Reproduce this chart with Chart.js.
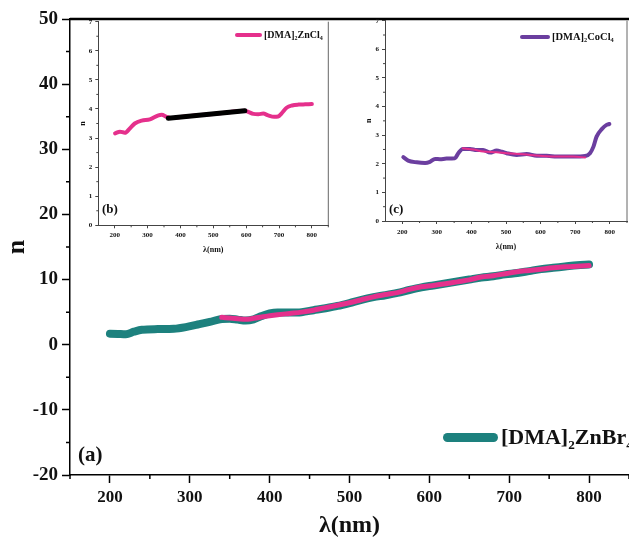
<!DOCTYPE html>
<html><head><meta charset="utf-8">
<script src="https://cdn.jsdelivr.net/npm/chart.js@4.4.0/dist/chart.umd.min.js"></script>
<style>
body{margin:0;background:#fff;}
#wrap{position:relative;width:629px;height:542px;overflow:hidden;font-family:"Liberation Serif","Times New Roman",serif;font-weight:bold;color:#111;}
canvas{position:absolute;}
.lab{position:absolute;white-space:nowrap;line-height:1;}
.leg{position:absolute;display:flex;align-items:center;white-space:nowrap;line-height:1;}
.sw{display:inline-block;border-radius:999px;flex:none;}
sub{font-size:60%;vertical-align:-0.35em;line-height:0;}
</style></head>
<body><div id="wrap">
<canvas id="cMain" width="629" height="542" style="left:0;top:0"></canvas>
<canvas id="cB" width="257" height="260" style="left:78px;top:0"></canvas>
<canvas id="cC" width="269" height="258" style="left:360px;top:0"></canvas>
<div class="lab" style="left:78px;top:444px;font-size:21px">(a)</div>
<div class="lab" style="left:102px;top:202px;font-size:13px">(b)</div>
<div class="lab" style="left:389px;top:202px;font-size:13px">(c)</div>
</div>
<script>
// ---- main panel (a) ----
const mainXTicks = [200, 300, 400, 500, 600, 700, 800];
const mainXMinor = [150, 250, 350, 450, 550, 650, 750, 850];
const mainYTicks = [-20, -10, 0, 10, 20, 30, 40, 50];
const mainYMinor = [-15, -5, 5, 15, 25, 35, 45];

const brLambda = [200, 210, 220, 230, 240, 260, 280, 295, 310, 325, 340, 350, 360, 370, 380, 390, 400, 410, 425, 440, 455, 470, 485, 500, 515, 530, 545, 560, 575, 590, 605, 620, 635, 650, 665, 680, 695, 710, 725, 740, 755, 770, 785, 800];
const brN      = [1.7, 1.65, 1.6, 2.0, 2.3, 2.4, 2.45, 2.7, 3.1, 3.5, 3.95, 4.0, 3.85, 3.7, 3.9, 4.4, 4.8, 4.95, 4.95, 5.0, 5.3, 5.6, 5.95, 6.4, 6.9, 7.3, 7.6, 7.95, 8.4, 8.8, 9.1, 9.4, 9.7, 10.0, 10.3, 10.5, 10.8, 11.0, 11.3, 11.6, 11.8, 12.0, 12.2, 12.3];

const fitLambda = [340, 350, 360, 370, 380, 395, 410, 425, 440, 455, 470, 485, 500, 515, 530, 545, 560, 575, 590, 605, 620, 635, 650, 665, 680, 695, 710, 725, 740, 755, 770, 785, 800];
const fitN      = [4.2, 4.1, 4.0, 3.9, 4.05, 4.35, 4.6, 4.8, 5.0, 5.3, 5.7, 6.05, 6.45, 6.9, 7.35, 7.7, 8.0, 8.5, 8.9, 9.1, 9.35, 9.65, 9.95, 10.4, 10.6, 10.9, 11.2, 11.4, 11.6, 11.8, 11.95, 12.05, 12.15];

// ---- inset (b) ----
const insXTicks = [200, 300, 400, 500, 600, 700, 800];
const insXMinor = [250, 350, 450, 550, 650, 750, 850];
const insYTicks = [0, 1, 2, 3, 4, 5, 6, 7];
const insYMinor = [0.5, 1.5, 2.5, 3.5, 4.5, 5.5, 6.5];

const znLambda = [201, 216, 231, 246, 261, 282, 307, 333, 343, 358, 370, 400, 450, 500, 550, 596, 606, 622, 637, 652, 667, 685, 697, 708, 724, 740, 760, 780, 800];
const znN      = [3.16, 3.22, 3.18, 3.33, 3.5, 3.6, 3.64, 3.78, 3.8, 3.73, 3.69, 3.72, 3.78, 3.83, 3.89, 3.94, 3.9, 3.83, 3.82, 3.84, 3.78, 3.73, 3.74, 3.85, 4.05, 4.12, 4.15, 4.16, 4.17];
const znFitLambda = [363, 596];
const znFitN      = [3.68, 3.94];

// ---- inset (c) ----
const coLambda = [203, 217, 242, 266, 280, 295, 309, 328, 352, 362, 375, 396, 415, 434, 454, 473, 488, 502, 531, 560, 589, 618, 647, 695, 729, 743, 753, 762, 777, 791, 799];
const coN      = [2.23, 2.11, 2.05, 2.03, 2.07, 2.17, 2.16, 2.18, 2.19, 2.37, 2.52, 2.52, 2.48, 2.48, 2.39, 2.46, 2.42, 2.37, 2.31, 2.34, 2.28, 2.28, 2.25, 2.25, 2.27, 2.37, 2.6, 2.95, 3.21, 3.36, 3.39];
const coFitLambda = [375, 405, 434, 473, 502, 550, 598, 647, 695, 729];
const coFitN      = [2.54, 2.5, 2.43, 2.4, 2.37, 2.33, 2.28, 2.25, 2.25, 2.22];

const TEAL = '#1d817e', PINK = '#e5308c', PURPLE = '#6b3e9f', BLACK = '#000000';
const SERIF = '"Liberation Serif","Times New Roman",serif';

const xy = (xs, ys) => xs.map((x, i) => ({x, y: ys[i]}));
const setTicks = arr => axis => { axis.ticks = arr.map(v => ({value: v})); };

const minorTicks = {
  id: 'minorTicks',
  afterDraw(chart, args, o) {
    const {ctx} = chart; const sx = chart.scales.x, sy = chart.scales.y;
    ctx.save(); ctx.strokeStyle = o.color; ctx.lineWidth = o.width; ctx.beginPath();
    (o.x || []).forEach(v => { const p = sx.getPixelForValue(v); ctx.moveTo(p, sx.top); ctx.lineTo(p, sx.top + o.len); });
    (o.y || []).forEach(v => { const p = sy.getPixelForValue(v); ctx.moveTo(sy.right, p); ctx.lineTo(sy.right - o.len, p); });
    ctx.stroke(); ctx.restore();
  }
};
const frame = {
  id: 'frame',
  afterDraw(chart, args, o) {
    const {ctx, chartArea: a} = chart;
    ctx.save();
    if (o.top) { ctx.strokeStyle = o.top.color; ctx.lineWidth = o.top.width; ctx.beginPath(); ctx.moveTo(a.left, a.top); ctx.lineTo(a.right, a.top); ctx.stroke(); }
    if (o.right) { ctx.strokeStyle = o.right.color; ctx.lineWidth = o.right.width; ctx.beginPath(); ctx.moveTo(a.right, a.top); ctx.lineTo(a.right, a.bottom); ctx.stroke(); }
    ctx.restore();
  }
};

const baseLine = {point: {radius: 0}, line: {cubicInterpolationMode: 'monotone', borderCapStyle: 'round', borderJoinStyle: 'round'}};

function axisX(o) {
  return {
    type: 'linear', min: 150, max: 850,
    afterBuildTicks: setTicks(o.ticks), afterFit: s => { s.height = o.h; },
    grid: {drawOnChartArea: false, tickLength: o.tl, color: o.c, tickWidth: o.bw},
    border: {color: o.c, width: o.bw},
    ticks: {font: {family: SERIF, size: o.fs, weight: 'bold'}, color: '#111', padding: o.tp, maxRotation: 0, autoSkip: false},
    title: {display: true, text: 'λ(nm)', font: {family: SERIF, size: o.ts, weight: 'bold'}, color: '#111', padding: {top: 0, bottom: o.tpad}}
  };
}
function axisY(o) {
  return {
    type: 'linear', min: o.min, max: o.max,
    afterBuildTicks: setTicks(o.ticks), afterFit: s => { s.width = o.w; },
    grid: {drawOnChartArea: false, tickLength: o.tl, color: o.c, tickWidth: o.bw},
    border: {color: o.c, width: o.bw},
    ticks: {font: {family: SERIF, size: o.fs, weight: 'bold'}, color: '#111', padding: o.tp, autoSkip: false},
    title: {display: true, text: 'n', font: {family: SERIF, size: o.ts, weight: 'bold'}, color: '#111', padding: {top: o.tpad, bottom: 0}}
  };
}

const mainChart = new Chart(document.getElementById('cMain'), {
  type: 'line',
  data: {datasets: [
    {label: '[DMA]₂ZnBr₄', data: xy(brLambda, brN), borderColor: TEAL, borderWidth: 8, order: 2},
    {label: '', data: xy(fitLambda, fitN), borderColor: PINK, borderWidth: 5, order: 1}
  ]},
  options: {
    responsive: false, animation: false, parsing: true,
    layout: {padding: {top: 19, right: 0, bottom: 0, left: 0}},
    elements: baseLine,
    plugins: {legend: {display: false}, tooltip: {enabled: false},
      minorTicks: {x: mainXMinor, y: mainYMinor, len: 4, color: '#000', width: 1.5},
      frame: {top: {color: '#000', width: 2.5}}},
    scales: {
      x: axisX({ticks: mainXTicks, h: 67, tl: 8, c: '#000', bw: 1.5, fs: 17, tp: 4, ts: 24, tpad: 2}),
      y: axisY({min: -20, max: 50, ticks: mainYTicks, w: 70, tl: 8, c: '#000', bw: 1.5, fs: 19, tp: 4, ts: 26, tpad: 2})
    }
  },
  plugins: [minorTicks, frame]
});

const chartB = new Chart(document.getElementById('cB'), {
  type: 'line',
  data: {datasets: [
    {label: '[DMA]₂ZnCl₄', data: xy(znLambda, znN), borderColor: PINK, borderWidth: 4, order: 2},
    {label: '', data: xy(znFitLambda, znFitN), borderColor: BLACK, borderWidth: 5, order: 1}
  ]},
  options: {
    responsive: false, animation: false,
    layout: {padding: {top: 21.7, right: 6.7, bottom: 0, left: 0}},
    elements: baseLine,
    plugins: {legend: {display: false}, tooltip: {enabled: false},
      minorTicks: {x: insXMinor, y: insYMinor, len: 2, color: '#444', width: 1},
      frame: {right: {color: '#666', width: 1}}},
    scales: {
      x: axisX({ticks: insXTicks, h: 34.7, tl: 3, c: '#444', bw: 1, fs: 7, tp: 3, ts: 8, tpad: 5}),
      y: axisY({min: 0, max: 7, ticks: insYTicks, w: 20.3, tl: 3, c: '#444', bw: 1, fs: 7, tp: 3, ts: 8, tpad: 0})
    }
  },
  plugins: [minorTicks, frame]
});

const chartC = new Chart(document.getElementById('cC'), {
  type: 'line',
  data: {datasets: [
    {label: '[DMA]₂CoCl₄', data: xy(coLambda, coN), borderColor: PURPLE, borderWidth: 4, order: 2},
    {label: '', data: xy(coFitLambda, coFitN), borderColor: PINK, borderWidth: 2, order: 1}
  ]},
  options: {
    responsive: false, animation: false,
    layout: {padding: {top: 20.7, right: 2, bottom: 0, left: 0}},
    elements: baseLine,
    plugins: {legend: {display: false}, tooltip: {enabled: false},
      minorTicks: {x: insXMinor, y: insYMinor, len: 2, color: '#444', width: 1},
      frame: {right: {color: '#666', width: 1}}},
    scales: {
      x: axisX({ticks: insXTicks, h: 37, tl: 3, c: '#444', bw: 1, fs: 7, tp: 4, ts: 8, tpad: 6}),
      y: axisY({min: 0, max: 7, ticks: insYTicks, w: 25, tl: 3, c: '#444', bw: 1, fs: 7, tp: 3, ts: 8, tpad: 4})
    }
  },
  plugins: [minorTicks, frame]
});

// HTML legends built from the charts' datasets
function subify(s) {
  const map = {'₀':'0','₁':'1','₂':'2','₃':'3','₄':'4','₅':'5','₆':'6','₇':'7','₈':'8','₉':'9'};
  return s.replace(/[₀-₉]/g, c => '<sub>' + map[c] + '</sub>');
}
function addLegend(chart, o) {
  const ds = chart.data.datasets[0];
  const el = document.createElement('div');
  el.className = 'leg';
  el.style.left = o.left + 'px'; el.style.top = (o.cy - o.fs / 2) + 'px';
  el.style.height = o.fs + 'px'; el.style.fontSize = o.fs + 'px';
  const sw = document.createElement('span');
  sw.className = 'sw';
  sw.style.width = o.len + 'px'; sw.style.height = o.lw + 'px'; sw.style.background = ds.borderColor;
  sw.style.marginRight = o.gap + 'px';
  const tx = document.createElement('span');
  tx.innerHTML = subify(ds.label);
  el.appendChild(sw); el.appendChild(tx);
  document.getElementById('wrap').appendChild(el);
}
addLegend(mainChart, {left: 443, cy: 437, fs: 22, len: 55, lw: 9, gap: 3});
addLegend(chartB, {left: 235, cy: 35, fs: 10, len: 27, lw: 3.5, gap: 2});
addLegend(chartC, {left: 520, cy: 37, fs: 10.5, len: 30, lw: 4, gap: 2});
</script>
</body></html>
